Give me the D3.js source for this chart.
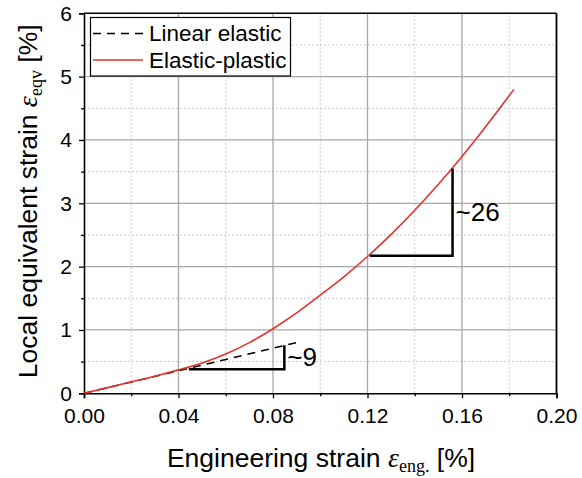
<!DOCTYPE html>
<html>
<head>
<meta charset="utf-8">
<script src="https://cdn.jsdelivr.net/npm/d3@7"></script>
<style>
  body { margin: 0; background: #fff; }
  text { font-family: "Liberation Sans", Arial, sans-serif; }
  .serif { font-family: "Liberation Serif", "Times New Roman", serif; }
</style>
</head>
<body>
<svg id="chart" width="582" height="478"></svg>
<script>
// engineering strain [%] vs local equivalent strain [%]
const strainEng = [0, 0.01, 0.02, 0.03, 0.04, 0.05, 0.06, 0.07, 0.08, 0.09, 0.10, 0.11, 0.12, 0.13, 0.14, 0.15, 0.16, 0.17, 0.182];
const strainEqv = [0, 0.09, 0.18, 0.27, 0.37, 0.48, 0.62, 0.80, 1.02, 1.27, 1.55, 1.84, 2.16, 2.51, 2.89, 3.30, 3.74, 4.21, 4.80];

// linear elastic line (slope ~9)
const linearX = [0, 0.091];
const linearY = [0, 0.81];

// slope triangles: [x0, y0, x1, y1] (horizontal from x0 to x1 at y0, vertical up to y1)
const triSmall = [0.0444, 0.38, 0.0848, 0.76];
const triLarge = [0.121, 2.17, 0.156, 3.55];
const slopeLabels = ["~9", "~26"];

const xTicks = [0, 0.04, 0.08, 0.12, 0.16, 0.20];
const xMinor = [0.02, 0.06, 0.10, 0.14, 0.18];
const yTicks = [0, 1, 2, 3, 4, 5, 6];
const yMinor = [0.5, 1.5, 2.5, 3.5, 4.5, 5.5];

const svg = d3.select("#chart");
const x = d3.scaleLinear().domain([0, 0.2]).range([84, 556.5]);
const y = d3.scaleLinear().domain([0, 6]).range([393.3, 13.3]);

// grid
svg.append("g").selectAll("line").data(xMinor).enter().append("line")
  .attr("x1", d => x(d)).attr("x2", d => x(d)).attr("y1", y(0)).attr("y2", y(6))
  .attr("stroke", "#c8c8c8").attr("stroke-width", 1).attr("stroke-dasharray", "2,2");
svg.append("g").selectAll("line").data(yMinor).enter().append("line")
  .attr("y1", d => y(d)).attr("y2", d => y(d)).attr("x1", x(0)).attr("x2", x(0.2))
  .attr("stroke", "#c8c8c8").attr("stroke-width", 1).attr("stroke-dasharray", "2,2");
svg.append("g").selectAll("line").data(xTicks.slice(1, -1)).enter().append("line")
  .attr("x1", d => x(d)).attr("x2", d => x(d)).attr("y1", y(0)).attr("y2", y(6))
  .attr("stroke", "#a8a8a8").attr("stroke-width", 1.3);
svg.append("g").selectAll("line").data(yTicks.slice(1, -1)).enter().append("line")
  .attr("y1", d => y(d)).attr("y2", d => y(d)).attr("x1", x(0)).attr("x2", x(0.2))
  .attr("stroke", "#a8a8a8").attr("stroke-width", 1.3);

// axes
svg.append("g").attr("transform", `translate(0,${y(0)})`)
  .call(d3.axisBottom(x).tickValues(xTicks).tickFormat(d3.format(".2f")).tickSize(5).tickPadding(10));
svg.append("g").attr("transform", `translate(0,${y(0)})`)
  .call(d3.axisBottom(x).tickValues(xMinor).tickFormat("").tickSize(3))
  .select(".domain").remove();
svg.append("g").attr("transform", `translate(${x(0)},0)`)
  .call(d3.axisLeft(y).tickValues(yTicks).tickFormat(d3.format("d")).tickSize(5).tickPadding(7));
svg.append("g").attr("transform", `translate(${x(0)},0)`)
  .call(d3.axisLeft(y).tickValues(yMinor).tickFormat("").tickSize(3))
  .select(".domain").remove();

svg.selectAll(".tick text").attr("font-size", 21).attr("fill", "#000")
  .style("font-family", "'Liberation Sans', Arial, sans-serif");
svg.selectAll(".tick line").attr("stroke", "#000").attr("stroke-width", 1.3);
svg.selectAll(".domain").attr("stroke", "#000").attr("stroke-width", 1.6);

// frame top/right
svg.append("line").attr("x1", x(0)).attr("x2", x(0.2)).attr("y1", y(6)).attr("y2", y(6))
  .attr("stroke", "#000").attr("stroke-width", 1.6);
svg.append("line").attr("x1", x(0.2)).attr("x2", x(0.2)).attr("y1", y(0)).attr("y2", y(6))
  .attr("stroke", "#000").attr("stroke-width", 1.8);

// linear elastic (dashed)
const linePts = linearX.map((v, i) => [v, linearY[i]]);
svg.append("path").datum(linePts)
  .attr("d", d3.line().x(d => x(d[0])).y(d => y(d[1])))
  .attr("fill", "none").attr("stroke", "#000").attr("stroke-width", 1.5)
  .attr("stroke-dasharray", "8,6");

// elastic-plastic curve
const curvePts = strainEng.map((v, i) => [v, strainEqv[i]]);
svg.append("path").datum(curvePts)
  .attr("d", d3.line().x(d => x(d[0])).y(d => y(d[1])).curve(d3.curveMonotoneX))
  .attr("fill", "none").attr("stroke", "#e5322d").attr("stroke-width", 1.6);

// slope triangles
[triSmall, triLarge].forEach((t, i) => {
  svg.append("path")
    .attr("d", `M${x(t[0])},${y(t[1])}H${x(t[2])}V${y(t[3])}`)
    .attr("fill", "none").attr("stroke", "#000").attr("stroke-width", 2.5);
  svg.append("text")
    .attr("x", x(t[2]) + 3)
    .attr("y", y((t[1] + t[3]) / 2) + 9)
    .attr("font-size", 26)
    .text(slopeLabels[i]);
});

// legend
const lg = svg.append("g");
lg.append("rect").attr("x", 90.5).attr("y", 17.5).attr("width", 200).attr("height", 58.5)
  .attr("fill", "#fff").attr("stroke", "#000").attr("stroke-width", 1.2);
lg.append("line").attr("x1", 93).attr("x2", 143).attr("y1", 33.5).attr("y2", 33.5)
  .attr("stroke", "#000").attr("stroke-width", 1.5).attr("stroke-dasharray", "8,6");
lg.append("line").attr("x1", 93).attr("x2", 143).attr("y1", 60).attr("y2", 60)
  .attr("stroke", "#e5322d").attr("stroke-width", 1.6);
lg.append("text").attr("x", 149).attr("y", 41).attr("font-size", 22.5).text("Linear elastic");
lg.append("text").attr("x", 149).attr("y", 68).attr("font-size", 22.5).text("Elastic-plastic");

// axis titles
const xt = svg.append("text").attr("x", 321).attr("y", 467).attr("text-anchor", "middle").attr("font-size", 26.5);
xt.append("tspan").text("Engineering strain ");
xt.append("tspan").attr("class", "serif").attr("font-style", "italic").attr("font-size", 28).text("ε");
xt.append("tspan").attr("class", "serif").attr("font-size", 18).attr("dy", 5).text("eng.");
xt.append("tspan").attr("dy", -5).text(" [%]");

const yt = svg.append("text").attr("transform", `translate(37,${y(3) - 2}) rotate(-90)`)
  .attr("text-anchor", "middle").attr("font-size", 26.5);
yt.append("tspan").text("Local equivalent strain ");
yt.append("tspan").attr("class", "serif").attr("font-style", "italic").attr("font-size", 28).text("ε");
yt.append("tspan").attr("class", "serif").attr("font-size", 18).attr("dy", 5).text("eqv");
yt.append("tspan").attr("dy", -5).text(" [%]");
</script>
</body>
</html>
